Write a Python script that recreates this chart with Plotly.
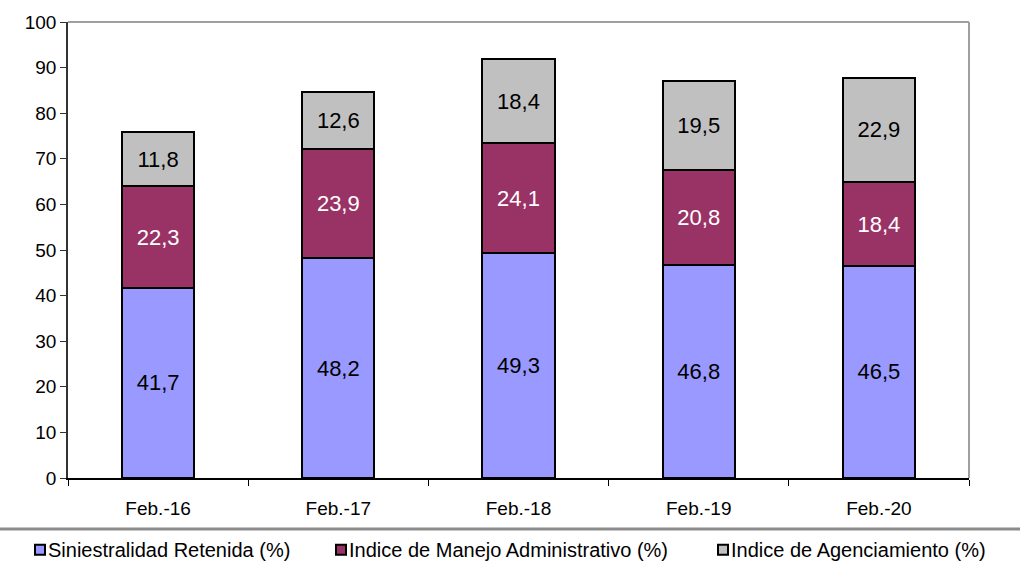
import plotly.graph_objects as go

# Periods and stacked components (percent)
periodos = ["Feb.-16", "Feb.-17", "Feb.-18", "Feb.-19", "Feb.-20"]
siniestralidad = [41.7, 48.2, 49.3, 46.8, 46.5]
manejo_admin = [22.3, 23.9, 24.1, 20.8, 18.4]
agenciamiento = [11.8, 12.6, 18.4, 19.5, 22.9]

series_nombres = [
    "Siniestralidad Retenida (%)",
    "Indice de Manejo Administrativo (%)",
    "Indice de Agenciamiento (%)",
]
series_valores = [siniestralidad, manejo_admin, agenciamiento]
colores = ["#9999FF", "#993366", "#C0C0C0"]
colores_texto = ["black", "white", "black"]

FONT = "Liberation Sans, Arial, sans-serif"

# Plot area geometry (pixels) used to place the hand-built legend
W, H = 1020, 567
L, R, T, B = 68, 51, 17, 89
PW, PH = W - L - R, H - T - B


def px_x(x):
    return (x - L) / PW


def px_y(y):
    return (H - B - y) / PH


fig = go.Figure()
for nombre, vals, col, tcol in zip(series_nombres, series_valores, colores, colores_texto):
    fig.add_trace(go.Bar(
        x=periodos, y=vals, name=nombre,
        marker=dict(color=col, line=dict(color="black", width=2)),
        texttemplate="%{y:.1f}", textposition="inside",
        insidetextanchor="middle", constraintext="none",
        textfont=dict(family=FONT, size=22, color=tcol),
        showlegend=False,
    ))

shapes = [
    # top and right frame of the plot area
    dict(type="line", xref="paper", yref="paper", x0=0, x1=1, y0=1, y1=1,
         line=dict(color="#A0A0A0", width=2)),
    dict(type="line", xref="paper", yref="paper", x0=1, x1=1, y0=0, y1=1,
         line=dict(color="#A0A0A0", width=2)),
    # separator above the legend
    dict(type="line", xref="paper", yref="paper", x0=px_x(0), x1=px_x(W),
         y0=px_y(529.5), y1=px_y(529.5), line=dict(color="#8C8C8C", width=3)),
]

annotations = [
    # chart subtitle, its upper part running off the top edge
    dict(text="<b>(En porcentaje y %)</b>", xref="paper", yref="paper",
         x=px_x(512), y=px_y(-7), xanchor="center", yanchor="bottom",
         showarrow=False, font=dict(family=FONT, size=19, color="black")),
]

# Legend: swatch + label per series
legend_x = [34, 335, 717]
for nombre, col, lx in zip(series_nombres, colores, legend_x):
    shapes.append(dict(type="rect", xref="paper", yref="paper",
                       x0=px_x(lx + 1), x1=px_x(lx + 11),
                       y0=px_y(545.5), y1=px_y(555.5),
                       fillcolor=col, line=dict(color="black", width=2)))
    annotations.append(dict(text=nombre, xref="paper", yref="paper",
                            x=px_x(lx + 12), y=px_y(550.5),
                            xanchor="left", yanchor="middle", showarrow=False,
                            font=dict(family=FONT, size=20, color="black")))

fig.update_layout(
    width=W, height=H,
    margin=dict(l=L, r=R, t=T, b=B),
    barmode="stack", bargap=0.6,
    separators=",.",
    paper_bgcolor="white", plot_bgcolor="white",
    font=dict(family=FONT, color="black"),
    showlegend=False,
    shapes=shapes, annotations=annotations,
    xaxis=dict(
        showline=True, linecolor="black", linewidth=1.5,
        ticks="outside", tickson="boundaries", ticklen=6, tickcolor="black",
        ticklabelstandoff=12,
        tickfont=dict(family=FONT, size=19, color="black"),
        showgrid=False, zeroline=False,
    ),
    yaxis=dict(
        range=[0, 100], dtick=10, tick0=0,
        showline=True, linecolor="#333333", linewidth=1.5,
        ticks="outside", ticklen=6, tickcolor="#333333",
        tickfont=dict(family=FONT, size=19, color="black"),
        showgrid=False, zeroline=False,
    ),
)

fig.write_html("out.html")
